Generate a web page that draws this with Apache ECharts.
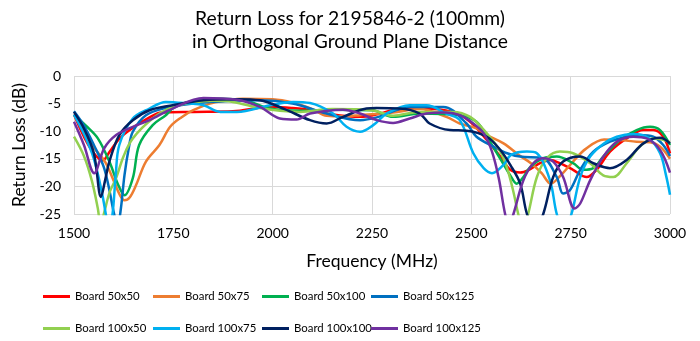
<!DOCTYPE html>
<html><head><meta charset="utf-8">
<script src="https://cdn.jsdelivr.net/npm/echarts@6/dist/echarts.min.js"></script>
<style>html,body{margin:0;padding:0;background:#fff}#c{width:700px;height:341px}</style>
</head><body><div id="c"></div>
<script>
const xTicks = [1500, 1750, 2000, 2250, 2500, 2750, 3000];
const yTicks = [0, -5, -10, -15, -20, -25];
const names = ['Board 50x50','Board 50x75','Board 50x100','Board 50x125','Board 100x50','Board 100x75','Board 100x100','Board 100x125'];

const board50x50 = [[1500,-7],[1525,-11],[1550,-14],[1572,-15.3],[1590,-13.7],[1615,-11.3],[1650,-9.3],[1690,-7.5],[1720,-6.6],[1800,-6.5],[1900,-6.4],[1970,-5.7],[2000,-5.6],[2050,-5.8],[2100,-6.2],[2136,-6.8],[2220,-7.4],[2260,-7],[2303,-6.2],[2370,-5.9],[2453,-6.5],[2497,-8.3],[2539,-11.6],[2573,-14.6],[2598,-17],[2623,-17.5],[2645,-17],[2673,-15.8],[2698,-15.2],[2723,-15.8],[2756,-17],[2790,-18.3],[2815,-17],[2849,-13.7],[2891,-11.3],[2933,-9.8],[2958,-9.8],[2983,-11],[3000,-14]];
const board50x75 = [[1500,-7],[1525,-10],[1550,-13],[1578,-15.5],[1600,-19],[1615,-21.5],[1627,-22.5],[1640,-22],[1656,-19.8],[1681,-15.5],[1715,-12.5],[1742,-9.2],[1770,-7.5],[1800,-6.2],[1842,-5],[1880,-4.5],[1925,-4.1],[2000,-4.2],[2050,-4.8],[2100,-6],[2136,-7.2],[2180,-7.3],[2220,-7.1],[2303,-6.6],[2370,-6],[2437,-7.4],[2471,-8.6],[2513,-9.5],[2539,-10.7],[2581,-12.2],[2623,-14.5],[2650,-15.8],[2677,-17.6],[2700,-19.5],[2725,-18],[2756,-15.5],[2788,-13.2],[2834,-11.5],[2874,-11.6],[2916,-11.9],[2950,-12],[2975,-12.8],[3000,-15]];
const board50x100 = [[1500,-7],[1530,-9],[1560,-11.3],[1589,-15.5],[1610,-19.5],[1627,-21.6],[1648,-18.5],[1664,-12.5],[1698,-8.9],[1731,-7.1],[1750,-5.8],[1800,-4.5],[1868,-4.1],[1930,-4.4],[1993,-5.9],[2068,-6.3],[2150,-6.1],[2250,-6.2],[2303,-7.4],[2370,-6.8],[2471,-7.1],[2513,-8.3],[2539,-11],[2573,-15],[2598,-18],[2614,-19.5],[2631,-18.3],[2648,-16.5],[2681,-14.9],[2715,-14.6],[2756,-15.8],[2782,-17],[2807,-16.7],[2832,-14.6],[2874,-11.6],[2916,-9.8],[2950,-9.2],[2975,-9.8],[3000,-12.5]];
const board50x125 = [[1500,-6.4],[1525,-9],[1550,-12.5],[1575,-16.5],[1590,-21],[1601,-25],[1610,-27],[1618,-24],[1627,-18],[1638,-13],[1648,-10.1],[1681,-7.1],[1731,-5.8],[1800,-5],[1900,-4.5],[1968,-4.4],[2050,-5],[2136,-6.8],[2220,-8],[2262,-7.5],[2345,-5.6],[2430,-5.6],[2488,-8.6],[2513,-11],[2556,-12.8],[2590,-14],[2623,-14.6],[2681,-14.9],[2715,-18.3],[2731,-21.3],[2748,-20.7],[2774,-17],[2807,-13.7],[2849,-11.9],[2891,-11],[2924,-10.7],[2958,-11],[2983,-12.5],[3000,-14.5]];
const board100x50 = [[1500,-11],[1525,-14.5],[1545,-19],[1560,-24],[1567,-27],[1575,-25],[1590,-21],[1606,-18.5],[1625,-14.5],[1648,-11.3],[1698,-7.7],[1748,-5.6],[1800,-4.8],[1850,-4.5],[1900,-4.7],[1968,-5.8],[2018,-6.3],[2068,-6.5],[2150,-6],[2250,-6.2],[2303,-7.2],[2370,-6.5],[2453,-6.5],[2497,-7.4],[2539,-10.4],[2573,-13.7],[2590,-16.7],[2606,-21],[2618,-25],[2630,-28],[2643,-25],[2665,-18.3],[2690,-14.9],[2723,-13.7],[2756,-14],[2799,-15.8],[2832,-18],[2857,-18.3],[2891,-15.8],[2924,-12.8],[2958,-11.3],[2980,-11.5],[3000,-12]];
const board100x75 = [[1500,-7],[1525,-10.5],[1550,-15],[1570,-21],[1580,-25],[1588,-28],[1597,-25],[1605,-18],[1614,-12.5],[1648,-7.7],[1690,-5.9],[1731,-4.7],[1790,-5],[1826,-5.3],[1868,-6.5],[1910,-6.5],[1993,-5.3],[2051,-4.7],[2094,-4.9],[2152,-6.8],[2186,-9.2],[2220,-10.1],[2253,-8.9],[2287,-6.8],[2345,-5.3],[2387,-5.3],[2437,-6.8],[2471,-8],[2505,-14],[2531,-16.7],[2552,-17.6],[2581,-16.1],[2600,-14.3],[2640,-13.7],[2665,-14],[2698,-18.9],[2715,-25],[2733,-28],[2752,-25],[2774,-18.3],[2799,-14.6],[2832,-12.3],[2866,-11],[2908,-10.5],[2945,-11.2],[2975,-14],[2990,-18],[3000,-21.5]];
const board100x100 = [[1500,-6.5],[1525,-9.5],[1550,-14],[1568,-21.9],[1578,-19],[1589,-15.5],[1614,-10.7],[1648,-8],[1690,-6.2],[1748,-5.3],[1826,-4.4],[1910,-4.2],[1968,-4.4],[2030,-6],[2094,-8],[2136,-8.6],[2177,-7.4],[2236,-5.9],[2261,-5.8],[2320,-5.9],[2370,-6.8],[2395,-8.6],[2446,-9.8],[2488,-9.9],[2539,-11],[2573,-13.4],[2598,-16.1],[2623,-19.5],[2640,-25],[2660,-28],[2681,-25],[2706,-18.3],[2731,-15.5],[2774,-14.6],[2807,-15.8],[2849,-16.7],[2891,-15.2],[2933,-12.2],[2975,-11.2],[3000,-12.2]];
const board100x125 = [[1500,-8.3],[1525,-12.5],[1551,-17.6],[1576,-13.1],[1606,-10.7],[1648,-9.2],[1690,-8],[1748,-5.9],[1826,-4],[1910,-4.3],[1968,-5.6],[2018,-7.7],[2060,-7.9],[2094,-6.8],[2177,-6.1],[2220,-6.8],[2262,-8],[2303,-8.5],[2345,-7.7],[2387,-6.8],[2437,-6.6],[2471,-7.1],[2505,-8.6],[2531,-10.4],[2552,-13.7],[2569,-18.5],[2585,-25],[2595,-27],[2606,-25],[2631,-18.9],[2656,-15.8],[2681,-14.9],[2706,-15.5],[2731,-18.3],[2760,-24],[2774,-23.1],[2799,-18.9],[2832,-14.6],[2866,-11.9],[2908,-11],[2941,-11.3],[2975,-13.4],[3000,-17.5]];

const seriesData = [board50x50, board50x75, board50x100, board50x125, board100x50, board100x75, board100x100, board100x125];
const colors = ['#FF0000','#ED7D31','#00B050','#0070C0','#92D050','#00B0F0','#002060','#7030A0'];
const FONT = 'Lato';

const chart = echarts.init(document.getElementById('c'), null, {renderer:'canvas'});
const legendLefts = [43, 153, 262, 371];
const legends = names.map((n, i) => ({
  orient: 'horizontal', left: legendLefts[i % 4], top: i < 4 ? 291 : 323, padding: 0,
  icon: 'rect', itemWidth: 27, itemHeight: 3, itemGap: 0,
  textStyle: {fontFamily: FONT, fontSize: 11.4, color: '#000'},
  data: [n]
}));
chart.setOption({
  animation: false,
  color: colors,
  title: {
    text: 'Return Loss for 2195846-2 (100mm)\nin Orthogonal Ground Plane Distance',
    left: 'center', top: 2,
    textStyle: {fontFamily: FONT, fontSize: 19.3, fontWeight: 'normal', color: '#000', lineHeight: 23.5}
  },
  legend: legends,
  grid: {left: 74, right: 30, top: 76, bottom: 127, containLabel: false},
  xAxis: {
    type: 'value', min: 1500, max: 3000, interval: 250,
    name: 'Frequency (MHz)', nameLocation: 'middle', nameGap: 38,
    nameTextStyle: {fontFamily: FONT, fontSize: 17.5, color: '#000'},
    axisLine: {show: false}, axisTick: {show: false},
    axisLabel: {fontFamily: FONT, fontSize: 14, color: '#000', margin: 12, formatter: v => String(v)},
    splitLine: {show: true, lineStyle: {color: '#D9D9D9', width: 1}}
  },
  yAxis: {
    type: 'value', min: -25, max: 0, interval: 5,
    name: 'Return Loss (dB)', nameLocation: 'middle', nameGap: 40,
    nameTextStyle: {fontFamily: FONT, fontSize: 17.5, color: '#000'},
    axisLine: {show: false}, axisTick: {show: false},
    axisLabel: {fontFamily: FONT, fontSize: 14, color: '#000', margin: 13},
    splitLine: {show: true, lineStyle: {color: '#D9D9D9', width: 1}}
  },
  series: seriesData.map((d, i) => ({
    name: names[i], type: 'line', data: d, smooth: 0.35, showSymbol: false, symbol: 'none',
    clip: true, lineStyle: {width: 2.5, color: colors[i]}, itemStyle: {color: colors[i]}
  }))
});
</script></body></html>
